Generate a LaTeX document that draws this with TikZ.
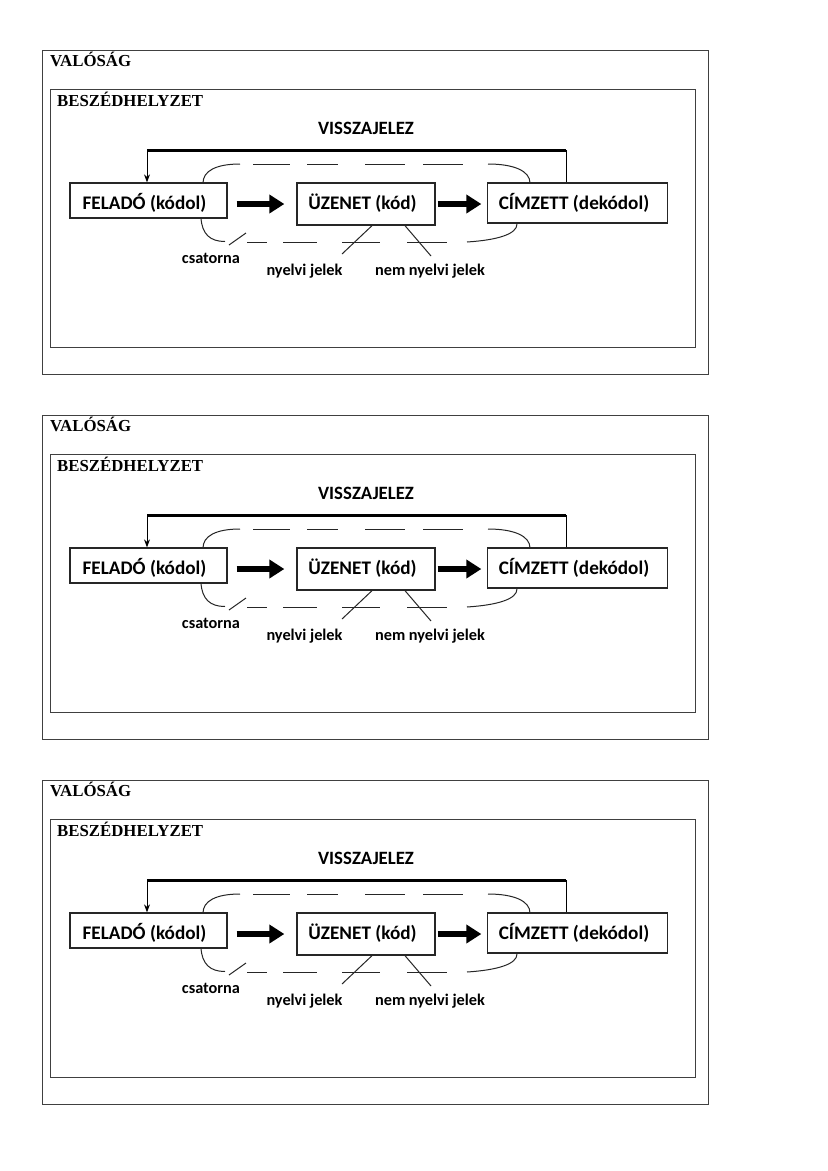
\documentclass[tikz,border=0pt]{standalone}
\usepackage{fontspec}
\setmainfont{Liberation Serif}
\newfontfamily\calfont{Carlito}
\usetikzlibrary{arrows.meta}
\begin{document}
\begin{tikzpicture}[x=1pt,y=-1pt,
 frame/.style={draw=black!75, line width=1pt},
 box/.style={draw=black!85, line width=1.3pt, fill=white, inner sep=0pt,
   font=\calfont\bfseries\fontsize{19.2}{22}\selectfont},
 lbl/.style={font=\calfont\bfseries\fontsize{16.3}{19}\selectfont, anchor=base, inner sep=0pt},
 ttl/.style={font=\bfseries\fontsize{16.8}{19}\selectfont, anchor=base west, inner sep=0pt},
 chan/.style={line width=1pt, draw=black!85},
 bigarrow/.style={line width=6.5pt, -{Triangle[length=15pt,width=18pt]}},
 fbline/.style={line width=1pt},
 fbthick/.style={line width=2.6pt},
]
\useasboundingbox (0,0) rectangle (828,1171);
\fill[white] (0,0) rectangle (828,1171);
\foreach \off in {0,365,730}{
\begin{scope}[yshift=-\off pt]
  % frames
  \draw[frame] (42,50) rectangle (708,374);
  \draw[frame] (50,89) rectangle (695,347);
  \node[ttl] (val) at (50,66) {VALÓSÁG};
  \node[ttl] (bes) at (57,106) {BESZÉDHELYZET};
  \node[lbl, font=\calfont\bfseries\fontsize{18.8}{22}\selectfont] (vj) at (366,134) {VISSZAJELEZ};
  % channel (dashed rounded outline)
  \draw[chan] (203,183) .. controls (203,171) and (216,164) .. (240,164);
  \draw[chan] (488,164) .. controls (514,164) and (530,171) .. (530,183);
  \draw[chan] (201,218) .. controls (202,234) and (210,241.5) .. (225,241.5);
  \draw[chan] (467,242) .. controls (498,240) and (517,234) .. (517,224);
  \foreach \a/\b in {253/290,307/338,365/405,423/463}
    \draw[chan] (\a,164) -- (\b,164);
  \foreach \a/\b in {247/267,283/317,342/380,407/447}
    \draw[chan] (\a,242) -- (\b,242);
  \draw[chan] (229,245) -- (246,233);
  % boxes
  \node[box, minimum width=157pt, minimum height=35pt, text height=18pt, text depth=0pt]
    (fel) at (148.5,200.5) {\hspace*{-8pt}FELADÓ (kódol)};
  \node[box, minimum width=138pt, minimum height=42pt, text height=15pt, text depth=4pt]
    (uz) at (366,204) {\hspace*{-7pt}ÜZENET (kód)};
  \node[box, minimum width=180pt, minimum height=40pt, text height=15.5pt, text depth=2.5pt]
    (cim) at (577.5,203) {\hspace*{-7pt}CÍMZETT (dekódol)};
  % thick arrows
  \draw[bigarrow, shorten <=9pt, shorten >=12pt] (fel.east |- uz.west) -- (uz.west);
  \draw[bigarrow, shorten <=2pt, shorten >=5.5pt] (uz.east) -- (cim.west |- uz.east);
  % feedback
  \coordinate (fr) at ([xshift=-11.5pt,yshift=32pt]cim.north);
  \coordinate (fl) at ([xshift=-1.5pt]fel.north |- fr);
  \draw[fbline] ([xshift=-11.5pt]cim.north) -- (fr);
  \draw[fbthick] (fl) -- (fr);
  \draw[fbline, -{Stealth[length=8pt,width=6pt]}] (fl) -- ([xshift=-1.5pt]fel.north);
  % labels
  \node[lbl] (csat) at (211,263) {csatorna};
  \node[lbl] (nyj) at (304.5,275) {nyelvi jelek};
  \node[lbl] (nnyj) at (430,275) {nem nyelvi jelek};
  \coordinate (n1) at (342,254);
  \coordinate (n2) at (431,256);
  \draw[chan] ([xshift=6pt]uz.south) -- (n1);
  \draw[chan] ([xshift=39pt]uz.south) -- (n2);
\end{scope}
}
\end{tikzpicture}
\end{document}
